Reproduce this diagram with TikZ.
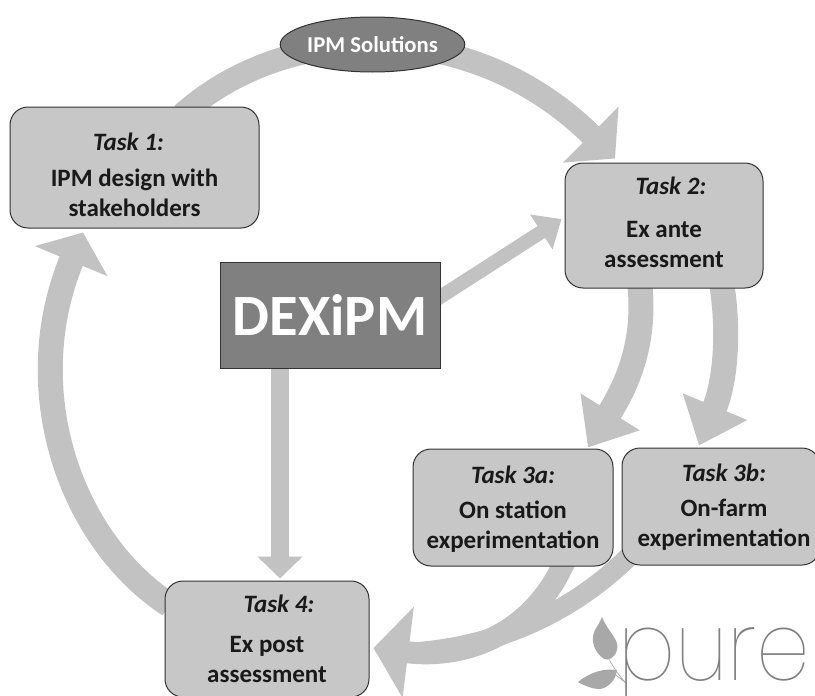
\documentclass[tikz,border=0pt]{standalone}
\usepackage{fontspec}
\setmainfont{Carlito}
\newfontfamily\purefont[FakeStretch=0.89]{Poppins Thin}
\usetikzlibrary{shapes.geometric,arrows.meta,backgrounds}
\definecolor{boxg}{gray}{0.78}
\definecolor{arrg}{gray}{0.76}
\definecolor{dk}{gray}{0.2}
\definecolor{logog}{gray}{0.5}
\definecolor{leafg}{gray}{0.66}
\definecolor{darkg}{gray}{0.5}
\tikzset{x=1pt,y=-1pt,
 taskbox/.style={draw=dk,line width=1pt,fill=boxg,rounded corners=18pt,align=center,inner sep=0pt,font=\fontsize{25}{30}\selectfont\bfseries,text=black!90},
 darkshape/.style={draw=dk,line width=1pt,fill=darkg,text=white,font=\bfseries},
 flow/.style n args={3}{draw=arrg,line width=#1,-{Triangle[length=#2,width=#3]}}}
\begin{document}
\begin{tikzpicture}
\useasboundingbox (0,0) rectangle (815,696);
\node[taskbox,minimum width=249pt,minimum height=121pt] (t1) at (134.5,167.5) {\rule{0pt}{32pt}\hspace*{-12pt}\textit{Task 1:}\\[6pt]IPM design with\\stakeholders};
\node[taskbox,minimum width=198pt,minimum height=125pt] (t2) at (664,225.5) {\hspace*{14pt}\textit{Task 2:}\\[13pt]Ex ante\\assessment\rule[-7pt]{0pt}{1pt}};
\node[taskbox,minimum width=200pt,minimum height=117pt] (t3a) at (513,507.5) {\rule{0pt}{20pt}\textit{Task 3a:}\\[5pt]On station\\experimentation};
\node[taskbox,minimum width=198pt,minimum height=117pt] (t3b) at (721,506.5) {\rule{0pt}{18pt}\hspace*{6pt}\textit{Task 3b:}\\[5pt]\hspace*{6pt}On-farm\\\hspace*{6pt}experimentation};
\node[taskbox,minimum width=204pt,minimum height=116pt] (t4) at (267,639) {\hspace*{24pt}\textit{Task 4:}\\[10pt]Ex post\\assessment};
\node[darkshape,minimum width=220pt,minimum height=106pt,font=\fontsize{58.5}{62}\selectfont\bfseries] (dex) at (330,315) {DEXiPM};
\node[darkshape,ellipse,minimum width=178pt,minimum height=55pt,inner sep=0pt,font=\fontsize{22.7}{26}\selectfont\bfseries] (ipm) at (372.5,44.5) {IPM Solutions};
\begin{pgfonlayer}{background}
\fill[white] (0,0) rectangle (815,696);
\draw[flow={23pt}{34pt}{77pt}] ([xshift=47.5pt,yshift=-8pt]t1.north) .. controls (285,22) and (470,15) .. ([xshift=-49pt,yshift=4pt]t2.north);
\draw[flow={25pt}{31pt}{77pt}] ([xshift=5pt,yshift=34pt]t4.west) .. controls (70,540) and (18,390) .. ([xshift=-51.5pt,yshift=-4pt]t1.south);
\draw[flow={14pt}{24pt}{40pt}] ([xshift=-5pt,yshift=15pt]dex.east) -- ([xshift=-3pt,yshift=6.5pt]t2.west);
\draw[flow={18pt}{22pt}{44pt}] ([xshift=-50pt]dex.south) -- ([xshift=13pt,yshift=2pt]t4.north);
\draw[flow={25pt}{42pt}{67pt}] ([xshift=-24pt,yshift=3pt]t2.south) .. controls (645,340) and (630,380) .. ([xshift=75pt,yshift=1pt]t3a.north);
\draw[flow={25pt}{42pt}{67pt}] ([xshift=58pt,yshift=3pt]t2.south) .. controls (730,340) and (724,385) .. ([xshift=-22pt,yshift=2pt]t3b.north);
\draw[draw=arrg,line width=20pt] ([xshift=-91pt,yshift=10pt]t3b.south) .. controls (570,615) and (490,650) .. ([xshift=31pt,yshift=-14pt]t4.east);
\draw[flow={22pt}{35pt}{90pt}] ([xshift=52pt,yshift=6pt]t3a.south) .. controls (535,630) and (470,660) .. ([xshift=4pt,yshift=-9pt]t4.east);
\end{pgfonlayer}
% logo
\fill[leafg] (602,617) .. controls (608,632) and (620,640) .. (617,650) .. controls (615,658) and (608,661) .. (604,659) .. controls (594,652) and (590,640) .. (595,630) .. controls (598,625) and (600,622) .. (602,617) -- cycle;
\fill[leafg] (578,682) .. controls (590,672) and (605,668) .. (617,670) .. controls (616,680) and (608,688) .. (600,689) .. controls (592,689) and (585,686) .. (578,682) -- cycle;
\draw[leafg,line width=0.7pt] (604,650) .. controls (612,665) and (618,675) .. (626,683) (612,672) -- (626,683);
\node[text=logog,anchor=base west,inner sep=0pt,font=\purefont\fontsize{96}{96}\selectfont] (pure) at (618,680) {pure};
\end{tikzpicture}
\end{document}
